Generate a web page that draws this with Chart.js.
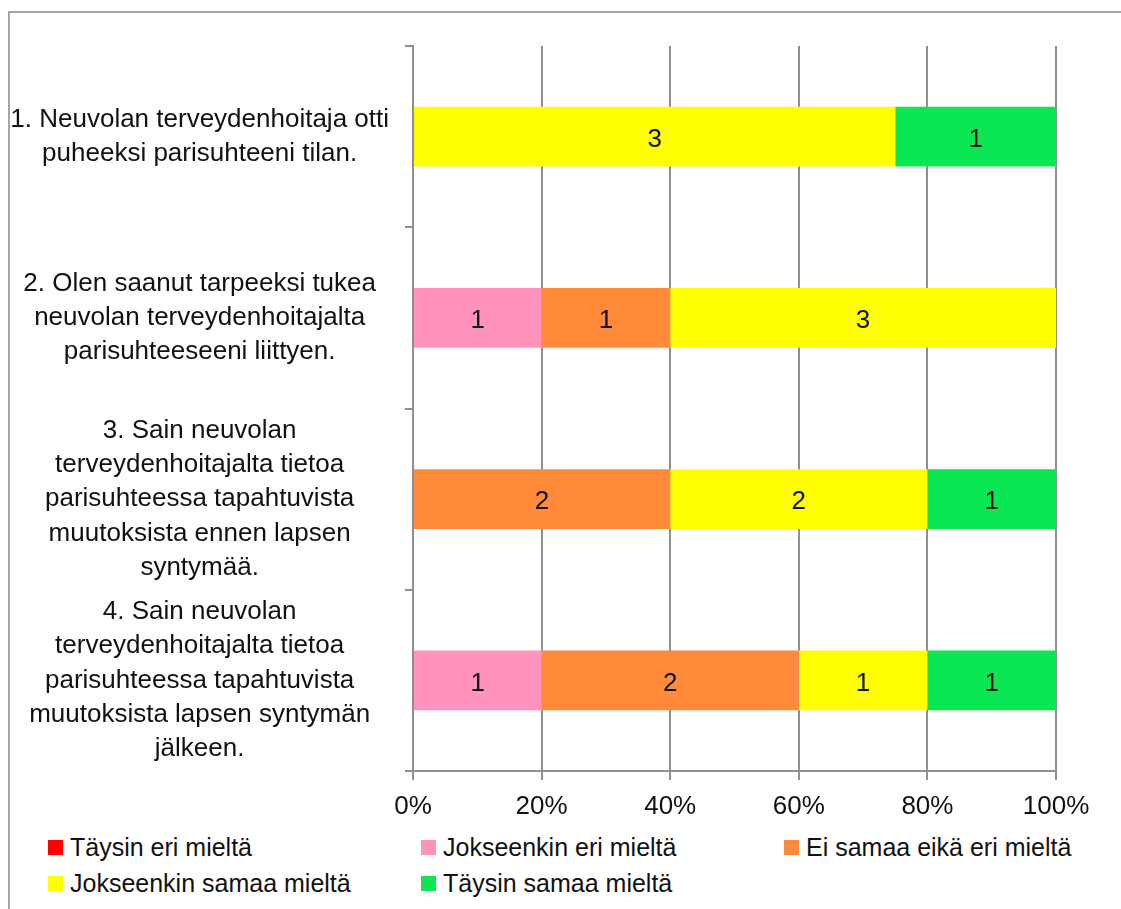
<!DOCTYPE html>
<html>
<head>
<meta charset="utf-8">
<script src="https://cdn.jsdelivr.net/npm/chart.js@4"></script>
<style>
  html, body { margin: 0; padding: 0; background: #fff; overflow: hidden; }
  body { width: 1121px; height: 909px; position: relative; font-family: "Liberation Sans", Arial, sans-serif; }
  #frame { position: absolute; left: 8px; top: 11px; width: 1200px; height: 1000px;
           border-top: 2px solid #a6a6a6; border-left: 2px solid #a6a6a6; box-sizing: border-box; }
  #wrap { position: absolute; left: 0; top: 0; width: 1121px; height: 830px; }
  .leg { position: absolute; font-size: 25px; color: #111; line-height: 30px; white-space: nowrap; }
  .leg i { display: inline-block; width: 15px; height: 15px; margin-right: 7px; vertical-align: 1px; }
</style>
</head>
<body>
<div id="frame"></div>
<div id="wrap"><canvas id="chartParisuhde" width="1121" height="830"></canvas></div>
<div id="legend"></div>
<script>
// kysymykset (y-akselin nimet, rivitettyinä kuten kuvassa)
const kysymykset = [
  ['1. Neuvolan terveydenhoitaja otti', 'puheeksi parisuhteeni tilan.'],
  ['2. Olen saanut tarpeeksi tukea', 'neuvolan terveydenhoitajalta', 'parisuhteeseeni liittyen.'],
  ['3. Sain neuvolan', 'terveydenhoitajalta tietoa', 'parisuhteessa tapahtuvista', 'muutoksista ennen lapsen', 'syntymää.'],
  ['4. Sain neuvolan', 'terveydenhoitajalta tietoa', 'parisuhteessa tapahtuvista', 'muutoksista lapsen syntymän', 'jälkeen.']
];

// vastausvaihtoehdot ja värit
const vaihtoehdot = ['Täysin eri mieltä', 'Jokseenkin eri mieltä', 'Ei samaa eikä eri mieltä', 'Jokseenkin samaa mieltä', 'Täysin samaa mieltä'];
const varit = ['#FF0000', '#FF93BD', '#FF8B3A', '#FFFF00', '#0BE653'];

// vastausten lukumäärät per vaihtoehto (kysymykset 1-4)
const taysinEri = [0, 0, 0, 0];
const jokseenkinEri = [0, 1, 0, 1];
const eiSamaaEiEri = [0, 1, 2, 2];
const jokseenkinSamaa = [3, 3, 2, 1];
const taysinSamaa = [1, 0, 1, 1];

const xTicks = [0, 20, 40, 60, 80, 100];

const sarjat = [taysinEri, jokseenkinEri, eiSamaaEiEri, jokseenkinSamaa, taysinSamaa];
const yhteensa = kysymykset.map((_, i) => sarjat.reduce((s, arr) => s + arr[i], 0));

const fontti = { family: '"Liberation Sans", Arial, sans-serif', size: 26, lineHeight: 1.32 };

// lukumäärät palkkien keskelle
const arvoPlugin = {
  id: 'arvot',
  afterDatasetsDraw(chart) {
    const ctx = chart.ctx;
    ctx.save();
    ctx.font = '26px "Liberation Sans", Arial, sans-serif';
    ctx.fillStyle = '#111';
    ctx.textAlign = 'center';
    ctx.textBaseline = 'middle';
    chart.data.datasets.forEach((ds, di) => {
      chart.getDatasetMeta(di).data.forEach((el, i) => {
        const n = ds.counts[i];
        if (!n) return;
        ctx.fillText(String(n), (el.x + el.base) / 2, el.y + 3);
      });
    });
    ctx.restore();
  }
};

const ctx = document.getElementById('chartParisuhde');
new Chart(ctx, {
  type: 'bar',
  data: {
    labels: kysymykset,
    datasets: sarjat.map((arr, k) => ({
      label: vaihtoehdot[k],
      counts: arr,
      data: arr.map((v, i) => v / yhteensa[i] * 100),
      backgroundColor: varit[k],
      borderWidth: 0,
      barPercentage: 0.33,
      categoryPercentage: 1
    }))
  },
  options: {
    responsive: false,
    animation: false,
    indexAxis: 'y',
    layout: { padding: { top: 46, right: 65, left: 0, bottom: 0 } },
    scales: {
      x: {
        stacked: true,
        min: 0,
        max: 100,
        afterBuildTicks: (s) => { s.ticks = xTicks.map(v => ({ value: v })); },
        afterFit: (s) => { s.height = 59; },
        ticks: { color: '#111', font: fontti, padding: 10, callback: v => v + '%' },
        grid: { color: '#8f8f8f', lineWidth: 2, tickLength: 9 },
        border: { color: '#8f8f8f', width: 2 }
      },
      y: {
        stacked: true,
        afterFit: (s) => { s.width = 413; s.paddingTop = 0; s.paddingBottom = 0; },
        ticks: { color: '#111', font: fontti, crossAlign: 'center', padding: 16, autoSkip: false },
        grid: { drawOnChartArea: false, color: '#8f8f8f', lineWidth: 2, tickLength: 8 },
        border: { color: '#8f8f8f', width: 2 }
      }
    },
    plugins: {
      legend: { display: false },
      tooltip: { enabled: false }
    }
  },
  plugins: [arvoPlugin]
});

// selite ruudukkona (3 saraketta)
const selitePaikat = [[48, 832], [421, 832], [784, 832], [48, 868], [421, 868]];
const legendDiv = document.getElementById('legend');
vaihtoehdot.forEach((nimi, k) => {
  const d = document.createElement('div');
  d.className = 'leg';
  d.style.left = selitePaikat[k][0] + 'px';
  d.style.top = selitePaikat[k][1] + 'px';
  d.innerHTML = '<i style="background:' + varit[k] + '"></i>' + nimi;
  legendDiv.appendChild(d);
});
</script>
</body>
</html>
